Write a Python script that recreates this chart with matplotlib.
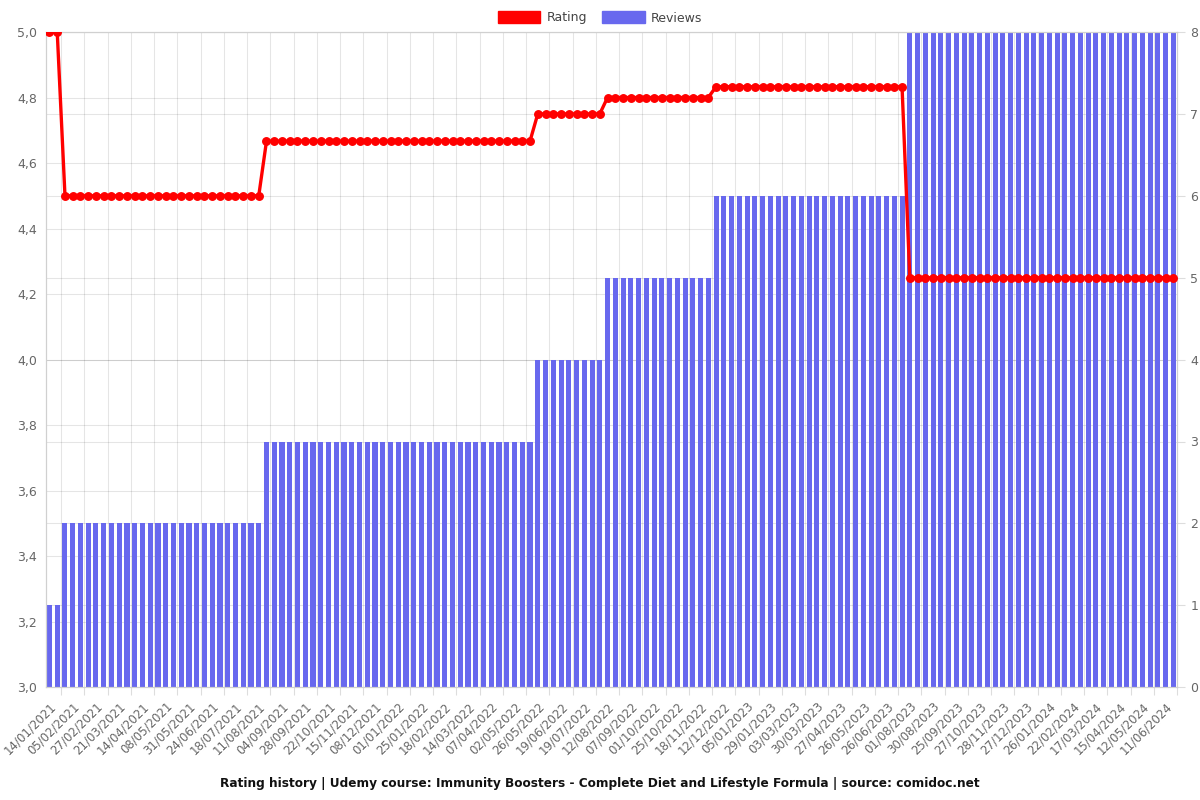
import matplotlib
matplotlib.use("Agg")
import matplotlib.pyplot as plt
from matplotlib.patches import Patch
from matplotlib.ticker import FuncFormatter, FixedLocator

# one entry per snapshot (146 points)
reviews = [1]*2 + [2]*26 + [3]*35 + [4]*9 + [5]*14 + [6]*25 + [8]*35
rating = [5.0]*2 + [4.5]*26 + [4.667]*35 + [4.75]*9 + [4.8]*14 + [4.833]*25 + [4.25]*35

# labels shown on the x axis (every third snapshot)
tick_labels = [
    "14/01/2021", "05/02/2021", "27/02/2021", "21/03/2021", "14/04/2021", "08/05/2021",
    "31/05/2021", "24/06/2021", "18/07/2021", "11/08/2021", "04/09/2021", "28/09/2021",
    "22/10/2021", "15/11/2021", "08/12/2021", "01/01/2022", "25/01/2022", "18/02/2022",
    "14/03/2022", "07/04/2022", "02/05/2022", "26/05/2022", "19/06/2022", "19/07/2022",
    "12/08/2022", "07/09/2022", "01/10/2022", "25/10/2022", "18/11/2022", "12/12/2022",
    "05/01/2023", "29/01/2023", "03/03/2023", "30/03/2023", "27/04/2023", "26/05/2023",
    "26/06/2023", "01/08/2023", "30/08/2023", "25/09/2023", "27/10/2023", "28/11/2023",
    "27/12/2023", "26/01/2024", "22/02/2024", "17/03/2024", "15/04/2024", "12/05/2024",
    "11/06/2024",
]

title = ("Rating history | Udemy course: Immunity Boosters - Complete Diet and "
         "Lifestyle Formula | source: comidoc.net")

bar_color = "#6868ee"
line_color = "#ff0000"
grid_color = "#000000"
text_color = "#666666"

x = list(range(len(reviews)))
n = len(x)

fig = plt.figure(figsize=(12, 8), dpi=100)
ax = fig.add_axes([0.038, 0.141, 0.943, 0.819])

# reviews as bars (right axis)
ax.bar(x, reviews, width=0.65, color=bar_color, zorder=2)
ax.set_ylim(0, 8)
ax.set_xlim(-0.5, n - 0.5)
ax.set_yticks(range(0, 9))

# rating line (left axis) drawn on top
ax2 = ax.twinx()
ax.yaxis.tick_right()
ax.yaxis.set_label_position("right")
ax2.yaxis.tick_left()
ax2.plot(x, rating, color=line_color, lw=2.4, marker="o", ms=5.4, zorder=5)
ax2.set_ylim(3.0, 5.0)
rating_ticks = [3.0, 3.2, 3.4, 3.6, 3.8, 4.0, 4.2, 4.4, 4.6, 4.8, 5.0]
ax2.set_yticks(rating_ticks)
ax2.yaxis.set_major_formatter(FuncFormatter(lambda v, p: f"{v:.1f}".replace(".", ",")))
ax2.set_xlim(-0.5, n - 0.5)

# grid lines under the bars (bars axis, 0..8 scale)
for yv in range(1, 9):
    ax.axhline(yv, color=grid_color, alpha=0.1, lw=0.8, zorder=0)
for yv in rating_ticks:
    ax.axhline((yv - 3.0) * 4, color=grid_color, alpha=0.1, lw=0.8, zorder=0)
grid_x = [i * 3 + 1.5 for i in range(len(tick_labels))]
for gx in grid_x:
    ax.axvline(gx, color=grid_color, alpha=0.1, lw=0.8, zorder=0)

# x ticks: marks at grid positions, labels every 3rd point
ax.xaxis.set_major_locator(FixedLocator(grid_x))
ax.xaxis.set_minor_locator(FixedLocator([i * 3 for i in range(len(tick_labels))]))
ax.set_xticklabels([])
ax.set_xticklabels(tick_labels, minor=True, rotation=45, ha="right",
                   rotation_mode="anchor")
ax.tick_params(axis="x", which="minor", length=0, pad=9, labelsize=8.5, labelcolor=text_color)
ax.tick_params(axis="x", which="major", length=6, color="#dddddd")
ax.tick_params(axis="y", length=6, color="#dddddd", labelsize=9, labelcolor=text_color,
               left=False, labelleft=False, right=True, labelright=True)
ax2.tick_params(axis="y", length=0, pad=6, labelsize=9, labelcolor=text_color,
                right=False, labelright=False, left=True, labelleft=True)

for a in (ax, ax2):
    for s in a.spines.values():
        s.set_color("#d0d0d0")
        s.set_linewidth(0.8)

handles = [Patch(color=line_color, label="Rating"), Patch(color=bar_color, label="Reviews")]
fig.legend(handles=handles, loc="upper center", bbox_to_anchor=(0.5, 1.0), ncol=2,
           frameon=False, fontsize=9, handlelength=3.4, handleheight=1.1,
           columnspacing=1.2, handletextpad=0.5, labelcolor="#444444")

fig.text(0.5, 0.021, title, ha="center", va="center", fontsize=8.7,
         fontweight="bold", color="#111111")

fig.savefig("out.png", dpi=100)
